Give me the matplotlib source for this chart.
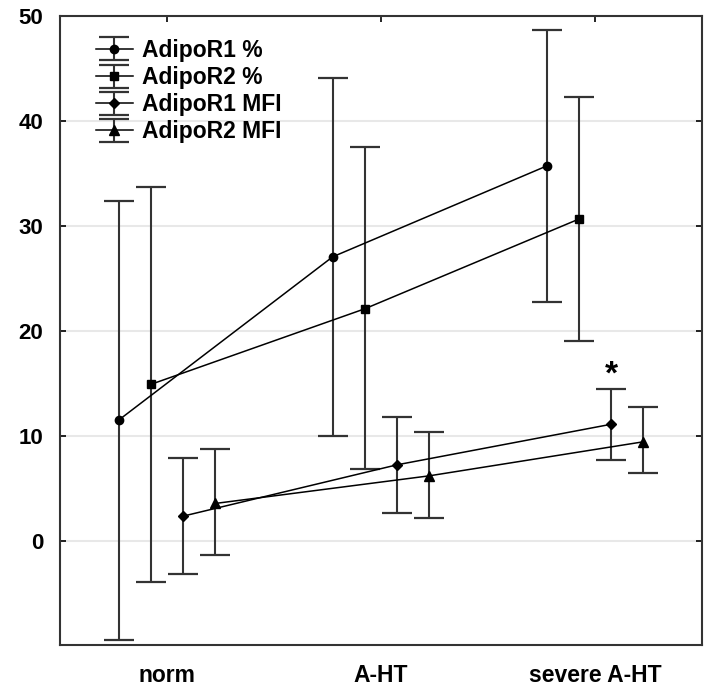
import numpy as np
import matplotlib
matplotlib.use("Agg")
import matplotlib.pyplot as plt

plt.rcParams['font.family'] = ['Liberation Sans', 'DejaVu Sans']
plt.rcParams['font.weight'] = 'bold'

groups = ['norm', 'A-HT', 'severe A-HT']
series = ['AdipoR1 %', 'AdipoR2 %', 'AdipoR1 MFI', 'AdipoR2 MFI']
markers = ['o', 's', 'D', '^']
marker_sizes = [6, 6, 5.5, 7]

# means and confidence limits
r1_pct = [11.5, 27.05, 35.7]
r1_pct_lo = [-9.4, 10.0, 22.76]
r1_pct_hi = [32.4, 44.07, 48.67]

r2_pct = [14.9, 22.1, 30.64]
r2_pct_lo = [-3.9, 6.83, 19.02]
r2_pct_hi = [33.7, 37.5, 42.3]

r1_mfi = [2.35, 7.24, 11.1]
r1_mfi_lo = [-3.17, 2.7, 7.69]
r1_mfi_hi = [7.85, 11.75, 14.5]

r2_mfi = [3.56, 6.19, 9.43]
r2_mfi_lo = [-1.3, 2.19, 6.42]
r2_mfi_hi = [8.76, 10.38, 12.7]

means = [r1_pct, r2_pct, r1_mfi, r2_mfi]
lows = [r1_pct_lo, r2_pct_lo, r1_mfi_lo, r2_mfi_lo]
highs = [r1_pct_hi, r2_pct_hi, r1_mfi_hi, r2_mfi_hi]
offsets = [-0.225, -0.075, 0.075, 0.225]

fig = plt.figure(figsize=(7.04, 6.86), dpi=100)
ax = fig.add_axes([0.085, 0.06, 0.912, 0.917])

x = np.arange(len(groups))
for i in range(len(series)):
    m = np.array(means[i])
    lo = m - np.array(lows[i])
    hi = np.array(highs[i]) - m
    ax.errorbar(x + offsets[i], m, yerr=[lo, hi], fmt='-', marker=markers[i],
                markersize=marker_sizes[i], color='black', lw=1.1,
                ecolor='#333333', elinewidth=1.5, capsize=11, capthick=1.6,
                label=series[i])

# significance mark
ax.text(x[2] + offsets[2], 17.3, '*', ha='center', va='top',
        fontsize=24, fontweight='bold')

ax.set_xlim(-0.5, 2.5)
ax.set_ylim(-9.9, 50)
ax.set_yticks([0, 10, 20, 30, 40, 50])
ax.yaxis.grid(True, color='#e8e8e8', lw=1.5)
ax.set_axisbelow(True)

ax.set_xticks(x)
ax.set_xticklabels(groups, fontsize=16.5, fontweight='bold')
ax.tick_params(axis='x', direction='in', bottom=False, top=True, length=4,
               width=1.2, pad=14)
ax.tick_params(axis='y', direction='in', left=True, right=True, length=4,
               width=1.2, labelsize=16, pad=12)
for sp in ax.spines.values():
    sp.set_linewidth(1.5)
    sp.set_color('#333333')

ax.legend(loc='upper left', frameon=False, fontsize=16.5, labelspacing=0.18,
          handlelength=1.6, handletextpad=0.4, borderaxespad=0.2,
          bbox_to_anchor=(0.035, 0.985))

fig.savefig('out.png', dpi=100)
